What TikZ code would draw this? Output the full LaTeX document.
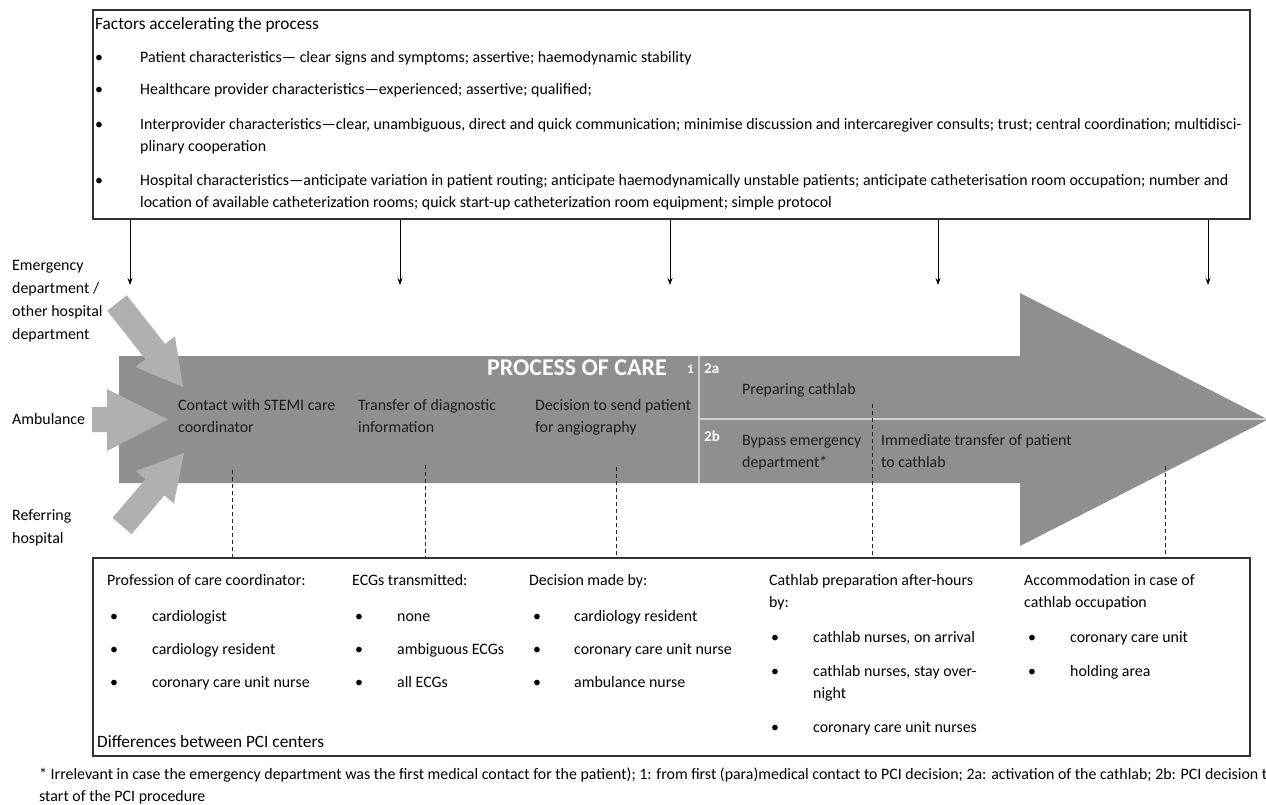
\documentclass[tikz,border=0pt]{standalone}
\usepackage{fontspec}
\setmainfont{Carlito}
\usetikzlibrary{arrows.meta}
\definecolor{arrowgray}{HTML}{8F8F8F}
\definecolor{inflowgray}{HTML}{B0B0B0}
\definecolor{divgray}{HTML}{CFCFCF}
\definecolor{framegray}{HTML}{333333}
\definecolor{labelink}{HTML}{1E1E1E}
\newcommand{\mlines}[1]{\begin{tabular}[t]{@{}l@{}}#1\end{tabular}}
\begin{document}
\begin{tikzpicture}[x=1pt,y=-1pt,
  txt/.style={anchor=base west, inner sep=0pt, font=\fontsize{15.9}{22.5}\selectfont, text=black},
  ttl/.style={txt, font=\fontsize{17.3}{22}\selectfont},
  ptxt/.style={txt, text=labelink},
  wtxt/.style={anchor=base west, inner sep=0pt, text=white, font=\bfseries\fontsize{15}{17}\selectfont},
  framebox/.style={draw=framegray, line width=1.3pt, inner sep=0pt},
  downarrow/.style={draw=black, line width=0.9pt, -{Stealth[length=7pt,width=5pt]}},
  dashconn/.style={draw=black!85, line width=0.9pt, dash pattern=on 4pt off 3pt},
  inflow/.style={fill=inflowgray, draw=none},
  divider/.style={draw=divgray, line width=1.5pt}]
\useasboundingbox (0,0) rectangle (1266,805);
\fill[white] (0,0) rectangle (1266,805);

% ---------- top box ----------
\node[framebox, minimum width=1157pt, minimum height=209pt] (factors) at (671.5,114.5) {};
\node[ttl] (ftitle) at (95,30) {Factors accelerating the process};
\node[txt] (fb1) at (95,63) {•};
\node[txt] (ft1) at (140,63) {Patient characteristics— clear signs and symptoms; assertive; haemodynamic stability};
\node[txt] (fb2) at (95,95) {•};
\node[txt] (ft2) at (140,95) {Healthcare provider characteristics—experienced; assertive; qualified;};
\node[txt] (fb3) at (95,130) {•};
\node[txt] (ft3) at (140,130) {\mlines{Interprovider characteristics—clear, unambiguous, direct and quick communication; minimise discussion and intercaregiver consults; trust; central coordination; multidisci-\\[-1pt]plinary cooperation}};
\node[txt] (fb4) at (95,186) {•};
\node[txt] (ft4) at (140,186) {\mlines{Hospital characteristics—anticipate variation in patient routing; anticipate haemodynamically unstable patients; anticipate catheterisation room occupation; number and\\[-1pt]location of available catheterization rooms; quick start-up catheterization room equipment; simple protocol}};

% ---------- main process arrow ----------
\fill[arrowgray] (119,356) -- (1020,356) -- (1020,293) -- (1268,419.5) -- (1020,546) -- (1020,483) -- (119,483) -- cycle;
\coordinate (divtop) at (699,356);
\coordinate (divbot) at (699,483);
\coordinate (divmid) at (699,419);
\coordinate (divend) at (1266,419);
\draw[divider] (divtop) -- (divbot);
\draw[divider] (divmid) -- (divend);

% inflow arrows
\fill[inflow] (107.2,310.7) -- (145.4,359.3) -- (135.5,367.1) -- (183,387) -- (174.9,336.2) -- (165,343.9) -- (126.8,295.3) -- cycle;
\fill[inflow] (92,407) -- (107,407) -- (107,389) -- (168,419.5) -- (107,451) -- (107,432) -- (92,432) -- cycle;
\fill[inflow] (131.5,534.1) -- (164.4,495.4) -- (173.9,503.5) -- (184,453) -- (135.9,471.1) -- (145.4,479.2) -- (112.5,517.9) -- cycle;

% left labels
\node[txt] (lemerg) at (12,270) {\mlines{Emergency\\[0.5pt]department /\\[0.5pt]other hospital\\[0.5pt]department}};
\node[txt] (lamb) at (12,424) {Ambulance};
\node[txt] (lref) at (12,520) {\mlines{Referring\\[0.5pt]hospital}};

% process labels
\node[anchor=base, inner sep=0pt, text=white, font=\bfseries\fontsize{24}{26}\selectfont] (ptitle) at (577,375) {PROCESS OF CARE};
\node[wtxt, font=\bfseries\fontsize{13}{15}\selectfont] (pone) at (687,373) {1};
\node[wtxt] (ptwoa) at (704,373) {2a};
\node[wtxt] (ptwob) at (704,441) {2b};
\node[ptxt] (pcontact) at (178,410) {\mlines{Contact with STEMI care\\coordinator}};
\node[ptxt] (ptransfer) at (358,410) {\mlines{Transfer of diagnostic\\information}};
\node[ptxt] (pdecision) at (535,410) {\mlines{Decision to send patient\\for angiography}};
\node[ptxt] (pprep) at (742,394) {Preparing cathlab};
\node[ptxt] (pbypass) at (742,445) {\mlines{Bypass emergency\\department*}};
\node[ptxt] (pimm) at (881,445) {\mlines{Immediate transfer of patient\\to cathlab}};

% arrows from factors box
\foreach \xx/\nm in {130/a1,400/a2,670/a3,938/a4,1208/a5}{
  \coordinate (\nm) at (\xx,285);
  \draw[downarrow] (factors.south -| \nm) -- (\nm);
}

% ---------- bottom box ----------
\node[framebox, minimum width=1157pt, minimum height=198pt] (diffs) at (671.5,657) {};
\foreach \xx/\yy/\nm in {232/470/c1,425/465/c2,616/467/c3,872/404/c4,1165/466/c5}{
  \coordinate (\nm) at (\xx,\yy);
  \draw[dashconn] (\nm) -- (diffs.north -| \nm);
}

\node[txt] (h1) at (107,585) {Profession of care coordinator:};
\node[txt] (b11) at (110,621) {•}; \node[txt] (i11) at (152,621) {cardiologist};
\node[txt] (b12) at (110,654) {•}; \node[txt] (i12) at (152,654) {cardiology resident};
\node[txt] (b13) at (110,687) {•}; \node[txt] (i13) at (152,687) {coronary care unit nurse};

\node[txt] (h2) at (352,585) {ECGs transmitted:};
\node[txt] (b21) at (355,621) {•}; \node[txt] (i21) at (397,621) {none};
\node[txt] (b22) at (355,654) {•}; \node[txt] (i22) at (397,654) {ambiguous ECGs};
\node[txt] (b23) at (355,687) {•}; \node[txt] (i23) at (397,687) {all ECGs};

\node[txt] (h3) at (529,585) {Decision made by:};
\node[txt] (b31) at (533,621) {•}; \node[txt] (i31) at (574,621) {cardiology resident};
\node[txt] (b32) at (533,654) {•}; \node[txt] (i32) at (574,654) {coronary care unit nurse};
\node[txt] (b33) at (533,687) {•}; \node[txt] (i33) at (574,687) {ambulance nurse};

\node[txt] (h4) at (769,585) {\mlines{Cathlab preparation after-hours\\by:}};
\node[txt] (b41) at (771,642) {•}; \node[txt] (i41) at (813,642) {cathlab nurses, on arrival};
\node[txt] (b42) at (771,676) {•}; \node[txt] (i42) at (813,676) {\mlines{cathlab nurses, stay over-\\night}};
\node[txt] (b43) at (771,732) {•}; \node[txt] (i43) at (813,732) {coronary care unit nurses};

\node[txt] (h5) at (1024,585) {\mlines{Accommodation in case of\\cathlab occupation}};
\node[txt] (b51) at (1028,642) {•}; \node[txt] (i51) at (1070,642) {coronary care unit};
\node[txt] (b52) at (1028,676) {•}; \node[txt] (i52) at (1070,676) {holding area};

\node[ttl] (dtitle) at (97,747) {Differences between PCI centers};

% ---------- footnote ----------
\node[txt] (foot1) at (39,779) {* Irrelevant in case the emergency department was the first medical contact for the patient); 1: from first (para)medical contact to PCI decision; 2a: activation of the cathlab; 2b: PCI decision to};
\node[txt] (foot2) at (39,801) {start of the PCI procedure};
\end{tikzpicture}
\end{document}
